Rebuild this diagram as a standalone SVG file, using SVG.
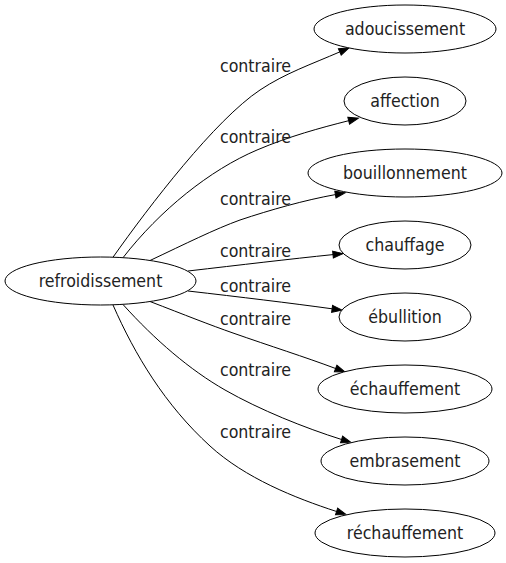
<svg xmlns="http://www.w3.org/2000/svg" width="506" height="563" viewBox="0 0 506 563">
<defs>
<style>
.node ellipse{fill:#fff;stroke:#000;stroke-width:1}
text{font-family:"DejaVu Sans Condensed","DejaVu Sans","Liberation Sans",sans-serif;font-stretch:condensed;font-size:17.6px;fill:#222}
.node text{text-anchor:middle}
.edges path{fill:none;stroke:#000;stroke-width:1;marker-end:url(#arr)}
.edges text{text-anchor:middle}
</style>
<marker id="arr" markerUnits="userSpaceOnUse" markerWidth="11" markerHeight="8" refX="0" refY="3.5" orient="auto" overflow="visible">
<path d="M0,0 L10,3.5 L0,7 Z" fill="#000" stroke="#000" stroke-width="1"/>
</marker>
</defs>
<rect width="506" height="563" fill="#fff"/>
<g class="edges" id="edges">
<path d="M113,257.2 C150,205 215,120 260,90 C285,73.3 312,64 339.8,51.9"/>
<text x="255.5" y="72">contraire</text>
<path d="M123,257.7 C160,210 210,170 257,150 C290,136 320,128 348.7,120.7"/>
<text x="255.5" y="143">contraire</text>
<path d="M150,260.5 C185,244 215,229 240,220 C270,210 305,200 335.4,194.6"/>
<text x="255.5" y="205">contraire</text>
<path d="M188,271 C240,265 290,259 333,254.6"/>
<text x="255.5" y="257">contraire</text>
<path d="M188,291 C240,297 290,303 332.1,308.8"/>
<text x="255.5" y="292">contraire</text>
<path d="M150,301.5 C185,315 210,325 233,333 C270,346 305,357 335.6,368.5"/>
<text x="255.5" y="325">contraire</text>
<path d="M123,304.5 C155,340 190,370 225,390 C260,410 305,428 341.6,439.5"/>
<text x="255.5" y="376">contraire</text>
<path d="M113,305 C135,355 165,405 210,446 C245,478 295,498 336.6,511.5"/>
<text x="255.5" y="438">contraire</text>
</g>
<g class="node" id="n-refroidissement"><ellipse cx="100.5" cy="281" rx="95.5" ry="24"/><text x="100.5" y="287">refroidissement</text></g>
<g class="node" id="n-adoucissement"><ellipse cx="405" cy="29" rx="91" ry="24"/><text x="405" y="35">adoucissement</text></g>
<g class="node" id="n-affection"><ellipse cx="405" cy="101" rx="61" ry="24"/><text x="405" y="107">affection</text></g>
<g class="node" id="n-bouillonnement"><ellipse cx="405" cy="173" rx="97" ry="24"/><text x="405" y="179">bouillonnement</text></g>
<g class="node" id="n-chauffage"><ellipse cx="405" cy="245" rx="66" ry="24"/><text x="405" y="251">chauffage</text></g>
<g class="node" id="n-ebullition"><ellipse cx="405" cy="317" rx="66" ry="24"/><text x="405" y="323">ébullition</text></g>
<g class="node" id="n-echauffement"><ellipse cx="405" cy="389" rx="87" ry="24"/><text x="405" y="395">échauffement</text></g>
<g class="node" id="n-embrasement"><ellipse cx="405" cy="461" rx="84" ry="24"/><text x="405" y="467">embrasement</text></g>
<g class="node" id="n-rechauffement"><ellipse cx="405" cy="533" rx="90" ry="24"/><text x="405" y="539">réchauffement</text></g>
</svg>
